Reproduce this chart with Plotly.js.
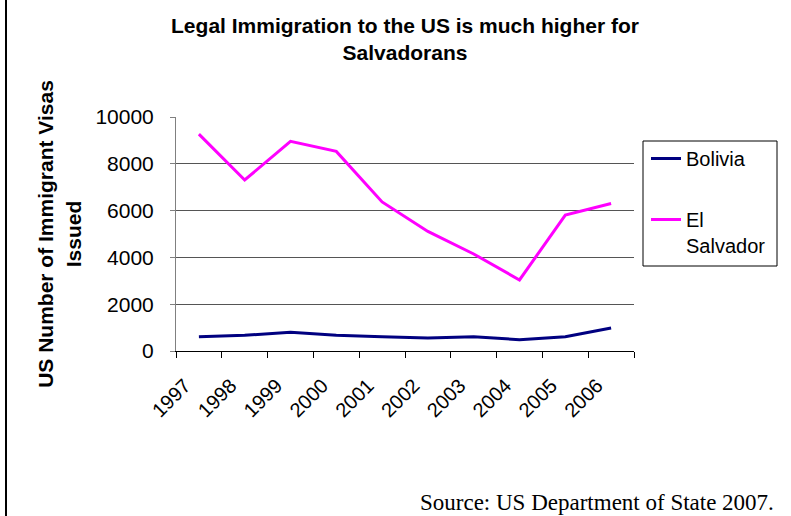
<!DOCTYPE html>
<html>
<head>
<meta charset="utf-8">
<script src="https://cdn.plot.ly/plotly-3.0.1.min.js"></script>
<style>
  html, body { margin: 0; padding: 0; background: #fff; }
  #chart { width: 791px; height: 516px; }
</style>
</head>
<body>
<div id="chart"></div>
<script>
const years = ["1997", "1998", "1999", "2000", "2001", "2002", "2003", "2004", "2005", "2006"];
const bolivia = [610, 670, 800, 670, 610, 555, 610, 485, 610, 985];
const elSalvador = [9270, 7310, 8960, 8530, 6370, 5110, 4145, 3035, 5810, 6300];
const yTicks = [0, 2000, 4000, 6000, 8000, 10000];

const W = 791, H = 516;
const L = 176, R = 634, T = 117, B = 351;
const px = x => (x - L) / (R - L);
const py = y => (B - y) / (B - T);

const traces = [
  { x: years, y: bolivia, name: "Bolivia", type: "scatter", mode: "lines",
    line: { color: "#000080", width: 3 }, legendgroup: "a" },
  { x: years, y: elSalvador, name: "El<br>Salvador", type: "scatter", mode: "lines",
    line: { color: "#FF00FF", width: 3 }, legendgroup: "b" }
];

const layout = {
  width: W, height: H,
  margin: { l: L, r: W - R, t: T, b: H - B, pad: 0 },
  paper_bgcolor: "#fff", plot_bgcolor: "#fff",
  font: { family: "Liberation Sans, Arial, sans-serif", color: "#000" },
  showlegend: true,
  title: {
    text: "<b>Legal Immigration to the US is much higher for<br>Salvadorans</b>",
    font: { size: 21, family: "Liberation Sans, Arial, sans-serif", color: "#000" },
    x: 0.5, xref: "paper", xanchor: "center",
    y: 1 - 33 / H, yref: "container", yanchor: "top"
  },
  xaxis: {
    type: "category",
    range: [-0.5, years.length - 0.5],
    tickangle: -45,
    tickfont: { size: 20 },
    ticks: "outside", ticklen: 6, tickcolor: "#000",
    tickson: "boundaries",
    ticklabelshift: -14,
    ticklabelstandoff: 14,
    showline: true, linecolor: "#000", linewidth: 1,
    showgrid: false, zeroline: false, fixedrange: true
  },
  yaxis: {
    range: [0, 10000],
    tickvals: yTicks,
    ticktext: yTicks.map(String),
    tickfont: { size: 21 },
    ticks: "outside", ticklen: 5, tickcolor: "#808080",
    ticklabelstandoff: 12,
    showline: true, linecolor: "#808080", linewidth: 1,
    showgrid: true, gridcolor: "#555", gridwidth: 1,
    zeroline: false, fixedrange: true,
    automargin: false,
    title: {
      text: "<b>US Number of Immigrant Visas<br>Issued</b>",
      font: { size: 21 },
      standoff: 8
    }
  },
  legend: {
    x: px(646), xanchor: "left",
    y: py(139), yanchor: "top",
    bgcolor: "rgba(0,0,0,0)", borderwidth: 0,
    font: { size: 20 },
    valign: "top",
    tracegroupgap: 32
  },
  shapes: [
    { type: "rect", xref: "paper", yref: "paper",
      x0: px(643), x1: px(777), y0: py(141), y1: py(266),
      line: { color: "#000", width: 1 }, fillcolor: "rgba(0,0,0,0)" },
    { type: "line", xref: "paper", yref: "paper",
      x0: px(6), x1: px(6), y0: py(516), y1: py(0),
      line: { color: "#000", width: 2 } }
  ],
  annotations: [
    { text: "Source: US Department of State 2007.", xref: "paper", yref: "paper",
      x: px(776), xanchor: "right", y: py(502), yanchor: "middle",
      showarrow: false,
      font: { family: "Liberation Serif, Times New Roman, serif", size: 23, color: "#000" } }
  ]
};

Plotly.newPlot("chart", traces, layout, { displayModeBar: false, staticPlot: true });
</script>
</body>
</html>
